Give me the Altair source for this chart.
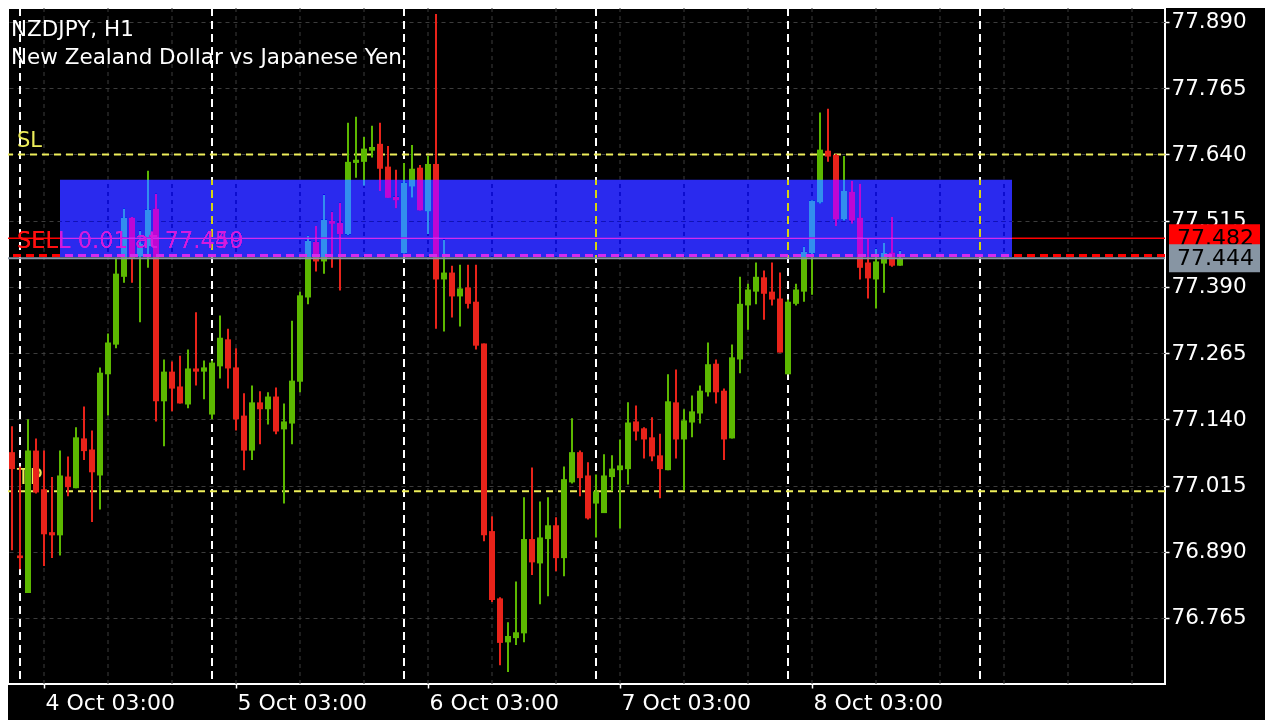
import json
import altair as alt
import pandas as pd

# ---------------- data ----------------
# H1 bars, first bar = 3 Oct 22:00
opens = [77.166, 77.078, 76.883, 76.812, 77.081, 77.008, 76.927, 76.921, 77.032, 77.010,
         77.104, 77.083, 77.034, 77.225, 77.281, 77.409, 77.521, 77.447, 77.466, 77.538,
         77.174, 77.230, 77.202, 77.168, 77.236, 77.230, 77.149, 77.240, 77.291, 77.238,
         77.147, 77.081, 77.172, 77.159, 77.183, 77.121, 77.132, 77.211, 77.370, 77.475,
         77.438, 77.515, 77.511, 77.489, 77.624, 77.626, 77.647, 77.660, 77.617, 77.560,
         77.453, 77.579, 77.615, 77.532, 77.622, 77.404, 77.417, 77.372, 77.389, 77.362,
         77.283, 76.929, 76.802, 76.719, 76.727, 76.736, 76.914, 76.868, 76.914, 76.940,
         76.878, 77.021, 77.078, 77.034, 76.981, 76.963, 77.031, 77.044, 77.046, 77.136,
         77.123, 77.106, 77.072, 77.044, 77.172, 77.102, 77.134, 77.151, 77.191, 77.245,
         77.194, 77.104, 77.253, 77.355, 77.381, 77.408, 77.381, 77.368, 77.225, 77.358,
         77.381, 77.453, 77.549, 77.647, 77.639, 77.517, 77.570, 77.521, 77.436, 77.404,
         77.434, 77.455, 77.430]
highs = [77.198, 77.127, 77.051, 77.140, 77.104, 77.081, 77.031, 77.081, 77.070, 77.125,
         77.164, 77.119, 77.238, 77.302, 77.445, 77.538, 77.522, 77.496, 77.609, 77.566,
         77.253, 77.249, 77.260, 77.272, 77.342, 77.251, 77.251, 77.336, 77.311, 77.274,
         77.189, 77.204, 77.193, 77.191, 77.200, 77.170, 77.326, 77.381, 77.487, 77.505,
         77.564, 77.532, 77.549, 77.700, 77.711, 77.673, 77.694, 77.700, 77.656, 77.611,
         77.624, 77.658, 77.620, 77.637, 77.905, 77.479, 77.430, 77.432, 77.432, 77.432,
         77.283, 76.957, 76.804, 76.757, 76.834, 76.993, 77.049, 76.985, 76.993, 76.955,
         77.051, 77.142, 77.081, 77.059, 77.036, 77.074, 77.072, 77.102, 77.172, 77.166,
         77.125, 77.144, 77.113, 77.225, 77.234, 77.159, 77.185, 77.204, 77.285, 77.253,
         77.198, 77.281, 77.409, 77.396, 77.436, 77.421, 77.436, 77.417, 77.366, 77.396,
         77.466, 77.553, 77.719, 77.726, 77.641, 77.637, 77.590, 77.585, 77.481, 77.462,
         77.473, 77.522, 77.458]
lows = [77.055, 76.893, 76.857, 76.812, 77.000, 76.863, 76.878, 76.883, 76.995, 77.010,
        77.063, 76.946, 76.970, 77.147, 77.274, 77.398, 77.398, 77.323, 77.426, 77.136,
        77.089, 77.155, 77.170, 77.161, 77.204, 77.178, 77.140, 77.217, 77.198, 77.119,
        77.044, 77.063, 77.093, 77.130, 77.112, 76.981, 77.093, 77.191, 77.357, 77.419,
        77.415, 77.426, 77.383, 77.487, 77.596, 77.581, 77.634, 77.571, 77.558, 77.538,
        77.453, 77.558, 77.534, 77.490, 77.311, 77.306, 77.332, 77.315, 77.349, 77.272,
        76.910, 76.795, 76.676, 76.663, 76.714, 76.719, 76.846, 76.791, 76.806, 76.853,
        76.844, 77.019, 76.995, 76.951, 76.917, 76.963, 77.004, 76.934, 77.017, 77.100,
        77.066, 77.061, 76.991, 77.044, 77.066, 77.006, 77.106, 77.132, 77.183, 77.170,
        77.063, 77.104, 77.227, 77.309, 77.357, 77.328, 77.355, 77.266, 77.225, 77.355,
        77.362, 77.375, 77.547, 77.626, 77.505, 77.515, 77.509, 77.404, 77.368, 77.349,
        77.379, 77.428, 77.430]
closes = [77.072, 77.046, 76.878, 77.081, 77.002, 76.923, 76.921, 77.034, 77.012, 77.106,
          77.080, 77.040, 77.228, 77.285, 77.415, 77.521, 77.443, 77.472, 77.536, 77.174,
          77.230, 77.198, 77.170, 77.236, 77.230, 77.238, 77.247, 77.294, 77.236, 77.140,
          77.081, 77.172, 77.159, 77.183, 77.117, 77.136, 77.213, 77.374, 77.477, 77.438,
          77.517, 77.509, 77.489, 77.626, 77.630, 77.651, 77.654, 77.613, 77.558, 77.553,
          77.587, 77.613, 77.534, 77.622, 77.404, 77.417, 77.372, 77.387, 77.358, 77.279,
          76.921, 76.799, 76.718, 76.731, 76.738, 76.914, 76.870, 76.917, 76.940, 76.878,
          77.027, 77.078, 77.029, 76.953, 77.004, 77.034, 77.047, 77.053, 77.134, 77.117,
          77.102, 77.070, 77.046, 77.174, 77.102, 77.138, 77.155, 77.194, 77.244, 77.191,
          77.102, 77.257, 77.358, 77.385, 77.409, 77.377, 77.366, 77.266, 77.362, 77.385,
          77.456, 77.553, 77.649, 77.636, 77.517, 77.571, 77.515, 77.426, 77.406, 77.438,
          77.455, 77.430, 77.444]

first_bar_hour = 22          # 3 Oct 22:00
title_lines = ["NZDJPY, H1", "New Zealand Dollar vs Japanese Yen"]
tick_labels = ["4 Oct 03:00", "5 Oct 03:00", "6 Oct 03:00", "7 Oct 03:00", "8 Oct 03:00"]
label_hour = 3
y_ticks = [76.765, 76.890, 77.015, 77.140, 77.265, 77.390, 77.515, 77.640, 77.765, 77.890]

sl_price = 77.640
tp_price = 77.004
ask_price = 77.482
bid_price = 77.444
entry_price = 77.449
sell_labels = ["SELL 0.01 at 77.450", "SELL 0.01 at 77.449"]
zone_top, zone_bottom = 77.592, 77.446
zone_bars = [7, 126]

# ---------------- layout / style ----------------
W, H = 1157, 676
X_DOM = [0.5, 145.125]
Y_DOM = [76.6404, 77.9164]
FONT = "DejaVu Sans"
GREEN, RED = "#5CB800", "#E8231A"
YELLOW = "#EEEE5A"
GRID = "#3C3C3C"
GRAYBOX = "#8795A3"

n = len(opens)
bars = pd.DataFrame({"i": list(range(n)), "o": opens, "h": highs, "l": lows, "c": closes})
bars["col"] = [GREEN if c >= o else RED for o, c in zip(opens, closes)]

hours = [(first_bar_hour + k) % 24 for k in range(int(X_DOM[1]) + 1)]
label_pos = [k for k, hh in enumerate(hours) if hh == label_hour][:len(tick_labels)]
sep_pos = [k for k, hh in enumerate(hours) if hh == 0]
grid_pos = [k for k, hh in enumerate(hours) if hh in (3, 11, 19)]

xs = alt.Scale(domain=X_DOM, nice=False, zero=False, padding=0)
ys = alt.Scale(domain=Y_DOM, nice=False, zero=False, padding=0)

label_expr = "%s[indexof(%s, datum.value)]" % (json.dumps(tick_labels), json.dumps(label_pos))
x_axis = alt.Axis(orient="bottom", values=label_pos, labelExpr=label_expr, labelAlign="left",
                  labelBaseline="alphabetic", labelPadding=21, labelOffset=1, tickSize=4,
                  tickColor="white", tickWidth=1.5, labelColor="white", labelFont=FONT,
                  labelFontSize=22, domain=False, grid=False, title=None, labelFlush=False,
                  labelOverlap=False)
y_axis = alt.Axis(orient="right", values=y_ticks, format=".3f", labelColor="white",
                  labelFont=FONT, labelFontSize=21.5, tickColor="white", tickSize=4,
                  tickWidth=1.5, labelPadding=2, domain=False, grid=True, gridColor=GRID,
                  gridDash=[4, 4], gridWidth=1, title=None, labelFlush=False,
                  labelOverlap=False)


def X(f):
    return alt.X(f, type="quantitative", scale=xs, axis=x_axis)


def Y(f):
    return alt.Y(f, type="quantitative", scale=ys, axis=y_axis)


# grids and separators
vgrid = alt.Chart(pd.DataFrame({"x": grid_pos})).mark_rule(
    color=GRID, strokeWidth=1, strokeDash=[4, 4]).encode(x=X("x"))
seps = alt.Chart(pd.DataFrame({"x": sep_pos})).mark_rule(
    color="white", strokeWidth=2, strokeDash=[8, 5]).encode(x=X("x"))

titles = alt.Chart(pd.DataFrame({"t": title_lines, "yy": [28, 56]})).mark_text(
    align="left", baseline="alphabetic", font=FONT, fontSize=21.5, color="white").encode(
    x=alt.value(3), y=alt.Y("yy:Q", scale=None), text="t:N")

levels = pd.DataFrame({"p": [sl_price, tp_price], "t": ["SL", "TP"]})
lvl_lines = alt.Chart(levels).mark_rule(color=YELLOW, strokeWidth=2, strokeDash=[7, 5]).encode(y=Y("p"))
lvl_text = alt.Chart(levels).mark_text(align="left", baseline="alphabetic", font=FONT,
                                       fontSize=21, color=YELLOW, dy=-7).encode(
    x=alt.value(9), y=Y("p"), text="t:N")

wicks = alt.Chart(bars).mark_rule(strokeWidth=2, clip=True).encode(
    x=X("i"), y=Y("l"), y2="h:Q", color=alt.Color("col:N", scale=None))
bodies = alt.Chart(bars).mark_bar(size=6, clip=True).encode(
    x=X("i"), y=Y("o"), y2="c:Q", color=alt.Color("col:N", scale=None))

ask_line = alt.Chart(pd.DataFrame({"p": [ask_price]})).mark_rule(
    color="#FF0000", strokeWidth=1.5).encode(y=Y("p"))
bid_line = alt.Chart(pd.DataFrame({"p": [bid_price]})).mark_rule(
    color=GRAYBOX, strokeWidth=2).encode(y=Y("p"))
entry_line = alt.Chart(pd.DataFrame({"p": [entry_price]})).mark_rule(
    color="#FF0000", strokeWidth=3, strokeDash=[8, 5]).encode(y=Y("p"))
sell_text = alt.Chart(pd.DataFrame({"t": sell_labels, "p": [entry_price] * len(sell_labels)})).mark_text(
    align="left", baseline="alphabetic", font=FONT, fontSize=22.5, color="#FF1010", dy=-8).encode(
    x=alt.value(9), y=Y("p"), text="t:N")

zone = alt.Chart(pd.DataFrame({"x1": [zone_bars[0]], "x2": [zone_bars[1]],
                               "t": [zone_top], "b": [zone_bottom]})).mark_rect(
    color="#2A2AEE", blend="difference").encode(x=X("x1"), x2="x2:Q", y=Y("t"), y2="b:Q")

half = 14 * (Y_DOM[1] - Y_DOM[0]) / H


def price_box(price, fill):
    d = pd.DataFrame({"p": [price], "lo": [price - half], "hi": [price + half],
                      "t": ["%.3f" % price]})
    box = alt.Chart(d).mark_rect(color=fill, clip=False).encode(
        x=alt.value(W + 4), x2=alt.value(W + 95), y=Y("lo"), y2="hi:Q")
    txt = alt.Chart(d).mark_text(align="left", baseline="middle", font=FONT, fontSize=22,
                                 color="black", clip=False).encode(
        x=alt.value(W + 12), y=Y("p"), text="t:N")
    return [box, txt]


layers = [vgrid, seps, titles, lvl_lines, lvl_text, wicks, bodies, ask_line, bid_line,
          entry_line, sell_text, zone] + price_box(ask_price, "#FF0000") + price_box(bid_price, GRAYBOX)

chart = alt.layer(*layers).properties(
    width=W, height=H, background="#000000",
    padding={"left": 0, "top": 0, "right": 100, "bottom": 36},
    autosize=alt.AutoSizeParams(type="none"),
).configure_view(stroke="white", strokeWidth=2, fill="#000000")

chart.save("out.html", embed_options={"renderer": "svg", "actions": False})
